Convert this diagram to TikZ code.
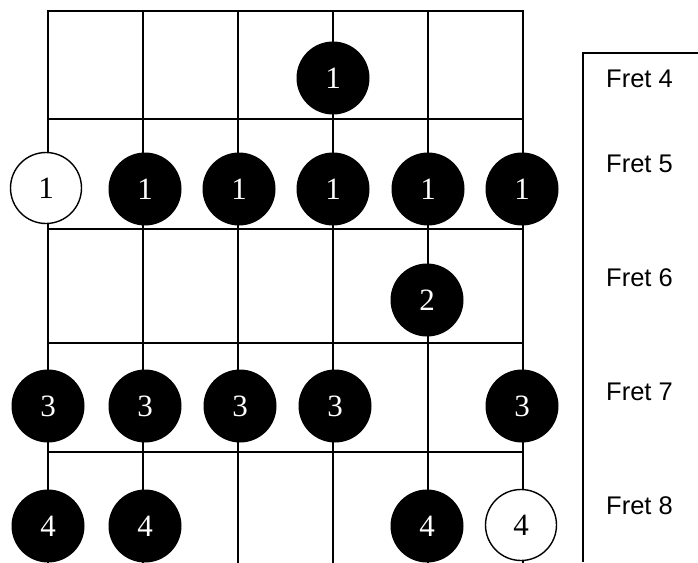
\documentclass[tikz,border=0pt]{standalone}
\usepackage{fontspec}
\setmainfont{Liberation Serif}
\newfontfamily\fretfont{Liberation Sans}
\usetikzlibrary{positioning}

\begin{document}
\begin{tikzpicture}[x=1pt, y=-1pt,
    grid/.style={line width=2pt, line cap=rect},
    finger/.style={circle, fill=black, text=white, minimum size=73pt, inner sep=0pt, font=\fontsize{31}{31}\selectfont},
    open/.style={circle, draw, fill=white, line width=1.4pt, minimum size=71pt, inner sep=0pt, font=\fontsize{31}{31}\selectfont},
    fret/.style={anchor=west, inner sep=0pt, font=\fretfont\fontsize{25.5}{25.5}\selectfont}
]
\useasboundingbox (0,0) rectangle (698,562);

% strings
\foreach \i/\x in {1/48,2/143,3/238,4/333,5/428,6/523} {
    \coordinate (t\i) at (\x,11);
    \coordinate (b\i) at (\x,562);
    \draw[grid] (t\i) -- (b\i);
}
% frets
\foreach \j/\y in {0/11,1/119,2/229,3/343,4/452} {
    \coordinate (l\j) at (48,\y);
    \coordinate (r\j) at (523,\y);
    \draw[grid] (l\j) -- (r\j);
}

% fret 4
\node[finger] (a4) at (333,78) {1};
% fret 5
\node[open]   (b1) at (46,188) {1};
\node[finger] (b2) at (145,189) {1};
\node[finger] (b3) at (239,189) {1};
\node[finger] (b4) at (333,189) {1};
\node[finger] (b5) at (428,189) {1};
\node[finger] (b6) at (522,189) {1};
% fret 6
\node[finger] (c5) at (427,300) {2};
% fret 7
\node[finger] (d1) at (48,406) {3};
\node[finger] (d2) at (145,406) {3};
\node[finger] (d3) at (240,406) {3};
\node[finger] (d4) at (335,406) {3};
\node[finger] (d6) at (522,406) {3};
% fret 8
\node[finger] (e1) at (48,526) {4};
\node[finger] (e2) at (145,526) {4};
\node[finger] (e5) at (427,526) {4};
\node[open]   (e6) at (521,525) {4};

% fret labels
\coordinate (pt) at (583,53);
\coordinate (pb) at (583,562);
\coordinate (pr) at (698,53);
\draw[line width=1.5pt] (pr) -- (pt) -- (pb);
\node[fret] (f4) at (606,79) {Fret 4};
\node[fret] (f5) at (606,164) {Fret 5};
\node[fret] (f6) at (606,278) {Fret 6};
\node[fret] (f7) at (606,392) {Fret 7};
\node[fret] (f8) at (606,506) {Fret 8};
\end{tikzpicture}
\end{document}
